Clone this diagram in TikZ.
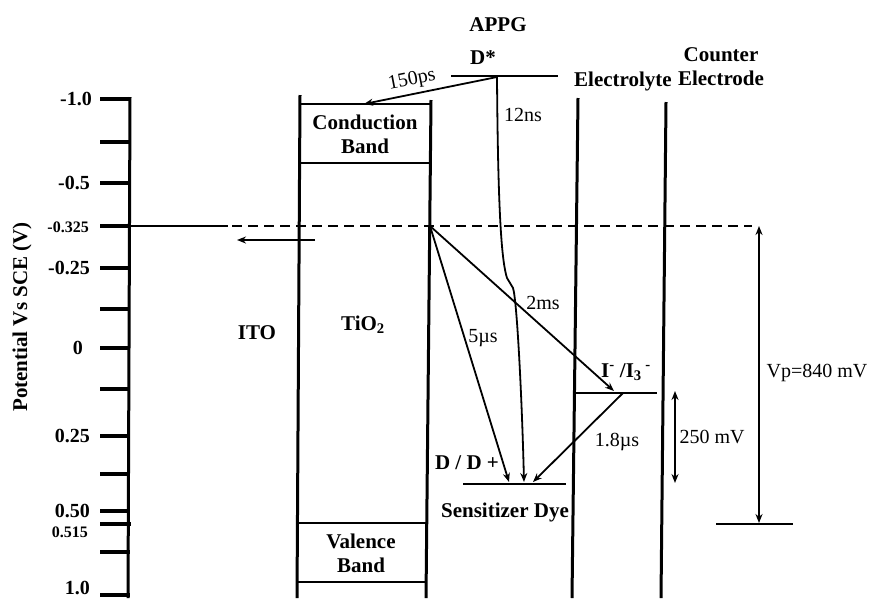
\documentclass[tikz,border=0pt]{standalone}
\usepackage{fontspec}
\setmainfont{Liberation Serif}
\usetikzlibrary{arrows.meta}
\begin{document}
\begin{tikzpicture}[x=1pt,y=-1pt,
  wall/.style={line width=3pt},
  thinline/.style={line width=1.1pt},
  level/.style={line width=2.4pt},
  tickline/.style={line width=3.5pt},
  arr/.style={line width=1.8pt,-{Stealth[length=9pt,width=7pt]}},
  darr/.style={line width=1.8pt,{Stealth[length=9pt,width=7pt]}-{Stealth[length=9pt,width=7pt]}},
  blbl/.style={font=\fontsize{21}{24}\selectfont\bfseries,inner sep=0pt,align=center},
  rlbl/.style={font=\fontsize{20}{22}\selectfont,inner sep=0pt},
  axlbl/.style={font=\fontsize{20}{22}\selectfont\bfseries,inner sep=0pt,anchor=east},
  smlbl/.style={font=\fontsize{16}{18}\selectfont\bfseries,inner sep=0pt,anchor=east}
]
\useasboundingbox (0,0) rectangle (869,598);

% axis
\draw[wall] (130,97) -- (128,598);
\foreach \yy in {99,142,183,226,268,309,348,389,436,474,511,552,595}
  \draw[tickline] (100,\yy) -- (130,\yy);
\draw[tickline] (100,524) -- (131,524);
\node[axlbl] (l1) at (92,99) {-1.0};
\node[axlbl] (l2) at (90,183) {-0.5};
\node[smlbl] (l3) at (89,227) {-0.325};
\node[axlbl] (l4) at (90,268) {-0.25};
\node[axlbl] (l5) at (83,348) {0};
\node[axlbl] (l6) at (90,436) {0.25};
\node[axlbl] (l7) at (90,511) {0.50};
\node[smlbl] (l8) at (88,532) {0.515};
\node[axlbl] (l9) at (90,588) {1.0};
\node[blbl,rotate=90] (ylab) at (22,317) {Potential Vs SCE (V)};

% walls
\draw[wall] (300,95) -- (297,598);
\draw[wall] (431,100) -- (426,598);
\draw[wall] (578,98) -- (572,598);
\draw[wall] (666,102) -- (661,598);

% bands
\draw[thinline] (300,104) -- (431,104);
\draw[thinline] (300,163) -- (430,163);
\draw[thinline] (298,523) -- (427,523);
\draw[thinline] (297,582) -- (426,582);
\node[blbl] (cbl) at (365,134) {Conduction\\Band};
\node[blbl] (vbl) at (361,553) {Valence\\Band};
\node[blbl] (tio) at (363,325) {TiO\textsubscript{2}};
\node[blbl] (ito) at (257,333) {ITO};

% Fermi level
\coordinate (ef) at (430,226);
\draw[level] (130,226) -- (228,226);
\draw[level,dash pattern=on 10pt off 6pt] (232,226) -- (752,226);
\draw[arr] (315,240) -- (237,240);

% levels
\coordinate (dstar) at (497,77);
\draw[level] (451,76) -- (558,76);
\draw[level] (463,484) -- (566,484);
\draw[line width=2pt] (575,393) -- (657,393);
\draw[line width=2pt] (716,524) -- (793,524);

\node[blbl] (appg) at (498,25) {APPG};
\node[blbl] (dst) at (483,58) {D*};
\node[blbl] (elec) at (623,81) {Electrolyte};
\node[blbl] (ce) at (721,67) {Counter\\Electrode};
\node[blbl] (ddp) at (467,463) {D / D +};
\node[blbl] (sens) at (505,512) {Sensitizer Dye};
\node[blbl] (iod) at (626,372) {I\textsuperscript{-} /I\textsubscript{3}\textsuperscript{ -}};

% transitions
\coordinate (cb) at (364,104);
\coordinate (d1) at (509,482);
\coordinate (d2) at (524,482);
\coordinate (d3) at (533,482);
\coordinate (io) at (614,391);
\coordinate (ios) at (623,393);
\draw[arr] (dstar) -- (cb);
\draw[arr] (dstar) .. controls (498,220) and (502,262) .. (507,278) -- (513,288) .. controls (517,300) and (522,400) .. (d2);
\draw[arr] (ef) -- (d1);
\draw[arr] (ef) -- (io);
\draw[arr] (ios) -- (d3);
\draw[darr] (759,226) -- (759,523);
\draw[darr] (675,391) -- (675,483);

\node[rlbl,rotate=11] (t150) at (412,80) {150ps};
\node[rlbl] (t12) at (523,115) {12ns};
\node[rlbl] (t2) at (543,303) {2ms};
\node[rlbl] (t5) at (483,338) {5µs};
\node[rlbl] (t18) at (617,442) {1.8µs};
\node[rlbl] (v250) at (712,437) {250 mV};
\node[rlbl] (vp) at (817,373) {Vp=840 mV};
\end{tikzpicture}
\end{document}
